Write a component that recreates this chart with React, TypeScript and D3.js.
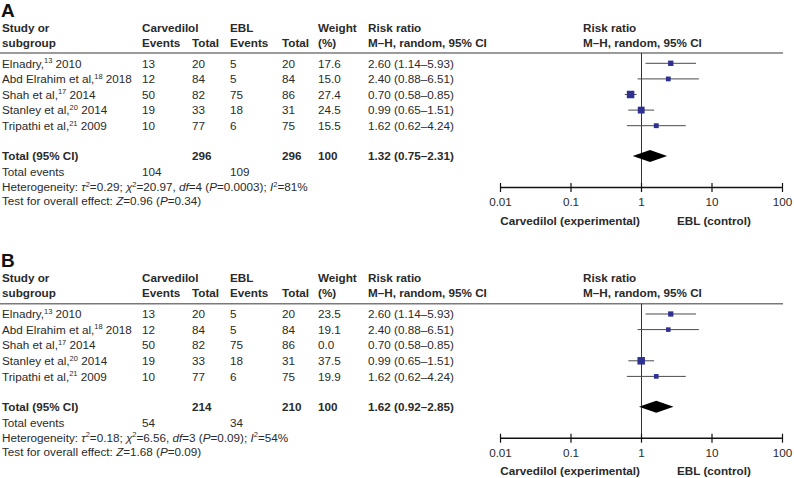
import React from "react";
import * as d3 from "d3";

const studyNames = ["Elnadry,", "Abd Elrahim et al,", "Shah et al,", "Stanley et al,", "Tripathi et al,"];
const studyRefs = ["13", "18", "17", "20", "21"];
const studyYears = ["2010", "2018", "2014", "2014", "2009"];
const carvEvents = [13, 12, 50, 19, 10];
const carvTotals = [20, 84, 82, 33, 77];
const eblEvents = [5, 5, 75, 18, 6];
const eblTotals = [20, 84, 86, 31, 75];
const riskRatio = [2.6, 2.4, 0.7, 0.99, 1.62];
const ciLow = [1.14, 0.88, 0.58, 0.65, 0.62];
const ciHigh = [5.93, 6.51, 0.85, 1.51, 4.24];
const weightsA = [17.6, 15.0, 27.4, 24.5, 15.5];
const weightsB = [23.5, 19.1, 0.0, 37.5, 19.9];
const includedA = [true, true, true, true, true];
const includedB = [true, true, false, true, true];

const totalCarvA = 296, totalEblA = 296, totalEvCarvA = 104, totalEvEblA = 109;
const pooledA = [1.32, 0.75, 2.31];
const hetA = { tau2: "0.29", chi2: "20.97", df: "4", p: "0.0003", i2: "81", z: "0.96", pz: "0.34" };
const totalCarvB = 214, totalEblB = 210, totalEvCarvB = 54, totalEvEblB = 34;
const pooledB = [1.62, 0.92, 2.85];
const hetB = { tau2: "0.18", chi2: "6.56", df: "3", p: "0.09", i2: "54", z: "1.68", pz: "0.09" };

const tickValues = [0.01, 0.1, 1, 10, 100];
const tickLabels = ["0.01", "0.1", "1", "10", "100"];

const FONT = "'Liberation Sans', Arial, Helvetica, sans-serif";
const TXT = "#2a2a2a";
const BLUE = "#2e3192";
const FS = 11.7;

const fmt1 = (v: number) => v.toFixed(1);
const fmt2 = (v: number) => v.toFixed(2);

function Panel({ label, oy, weights, included, totCarv, totEbl, evCarv, evEbl, pooled, het }: any) {
  const x = d3.scaleLog().domain([0.01, 100]).range([500.5, 782.5]);
  const rowY = (i: number) => 63.3 + i * 15.6;
  const wMax = d3.max(weights as number[]) as number;
  const side = d3.scaleLinear().domain([0, wMax]).range([1.5, 7.5]);
  const cols = { study: 2, ce: 142, ct: 192, ee: 230, et: 282, w: 318, rr: 368, plot: 583 };
  const axisY = 187.5;
  const totalY = 156;
  const diamondH = 6;
  const SUPFS = 7.5;
  return (
    <g transform={`translate(0,${oy})`} fontFamily={FONT} fill={TXT}>
      <text x={1} y={16.5} fontSize={19} fontWeight="bold" fill="#111">{label}</text>
      <g fontSize={FS} fontWeight="bold">
        <text x={cols.study} y={31.5}>Study or</text>
        <text x={cols.study} y={46.5}>subgroup</text>
        <text x={cols.ce} y={31.5}>Carvedilol</text>
        <text x={cols.ce} y={46.5}>Events</text>
        <text x={cols.ct} y={46.5}>Total</text>
        <text x={cols.ee} y={31.5}>EBL</text>
        <text x={cols.ee} y={46.5}>Events</text>
        <text x={cols.et} y={46.5}>Total</text>
        <text x={cols.w} y={31.5}>Weight</text>
        <text x={cols.w} y={46.5}>(%)</text>
        <text x={cols.rr} y={31.5}>Risk ratio</text>
        <text x={cols.rr} y={46.5}>M–H, random, 95% CI</text>
        <text x={cols.plot} y={31.5}>Risk ratio</text>
        <text x={cols.plot} y={46.5}>M–H, random, 95% CI</text>
      </g>
      <line x1={0} x2={783} y1={53} y2={53} stroke="#7a7a7a" strokeWidth={1.5} />
      <g fontSize={FS}>
        {studyNames.map((n, i) => (
          <g key={i}>
            <text x={cols.study} y={rowY(i) + 4.3}>
              {n}
              <tspan fontSize={SUPFS} dy={-4.5}>{studyRefs[i]}</tspan>
              <tspan dy={4.5}>{" " + studyYears[i]}</tspan>
            </text>
            <text x={cols.ce} y={rowY(i) + 4.3}>{carvEvents[i]}</text>
            <text x={cols.ct} y={rowY(i) + 4.3}>{carvTotals[i]}</text>
            <text x={cols.ee} y={rowY(i) + 4.3}>{eblEvents[i]}</text>
            <text x={cols.et} y={rowY(i) + 4.3}>{eblTotals[i]}</text>
            <text x={cols.w} y={rowY(i) + 4.3}>{fmt1(weights[i])}</text>
            <text x={cols.rr} y={rowY(i) + 4.3}>{`${fmt2(riskRatio[i])} (${fmt2(ciLow[i])}–${fmt2(ciHigh[i])})`}</text>
          </g>
        ))}
        <g fontWeight="bold">
          <text x={cols.study} y={totalY + 4.3}>Total (95% CI)</text>
          <text x={cols.ct} y={totalY + 4.3}>{totCarv}</text>
          <text x={cols.et} y={totalY + 4.3}>{totEbl}</text>
          <text x={cols.w} y={totalY + 4.3}>100</text>
          <text x={cols.rr} y={totalY + 4.3}>{`${fmt2(pooled[0])} (${fmt2(pooled[1])}–${fmt2(pooled[2])})`}</text>
        </g>
        <text x={cols.study} y={172 + 4.3}>Total events</text>
        <text x={cols.ce} y={172 + 4.3}>{evCarv}</text>
        <text x={cols.ee} y={172 + 4.3}>{evEbl}</text>
        <text x={cols.study} y={187 + 4.3}>
          {"Heterogeneity: "}
          <tspan fontStyle="italic">τ</tspan>
          <tspan fontSize={SUPFS} dy={-4.5}>2</tspan>
          <tspan dy={4.5}>{`=${het.tau2}; `}</tspan>
          <tspan fontStyle="italic">χ</tspan>
          <tspan fontSize={SUPFS} dy={-4.5}>2</tspan>
          <tspan dy={4.5}>{`=${het.chi2}, `}</tspan>
          <tspan fontStyle="italic">df</tspan>
          <tspan>{`=${het.df} (`}</tspan>
          <tspan fontStyle="italic">P</tspan>
          <tspan>{`=${het.p}); `}</tspan>
          <tspan fontStyle="italic">I</tspan>
          <tspan fontSize={SUPFS} dy={-4.5}>2</tspan>
          <tspan dy={4.5}>{`=${het.i2}%`}</tspan>
        </text>
        <text x={cols.study} y={201 + 4.3}>
          {"Test for overall effect: "}
          <tspan fontStyle="italic">Z</tspan>
          <tspan>{`=${het.z} (`}</tspan>
          <tspan fontStyle="italic">P</tspan>
          <tspan>{`=${het.pz})`}</tspan>
        </text>
      </g>
      <line x1={x(1)} x2={x(1)} y1={53} y2={axisY} stroke="#333" strokeWidth={1} />
      {studyNames.map((_, i) =>
        included[i] ? (
          <g key={i}>
            <line x1={x(ciLow[i])} x2={x(ciHigh[i])} y1={rowY(i)} y2={rowY(i)} stroke="#4a4a4a" strokeWidth={1} />
            <rect
              x={x(riskRatio[i]) - side(weights[i]) / 2}
              y={rowY(i) - side(weights[i]) / 2}
              width={side(weights[i])}
              height={side(weights[i])}
              fill={BLUE}
            />
          </g>
        ) : null
      )}
      <path
        d={`M${x(pooled[1])},${totalY} L${x(pooled[0])},${totalY - diamondH} L${x(pooled[2])},${totalY} L${x(pooled[0])},${totalY + diamondH} Z`}
        fill="#000"
      />
      <line x1={x(0.01)} x2={x(100)} y1={axisY} y2={axisY} stroke="#111" strokeWidth={1.4} />
      {tickValues.map((t, i) => (
        <g key={i}>
          <line x1={x(t)} x2={x(t)} y1={axisY - 4.5} y2={axisY + 4.5} stroke="#111" strokeWidth={1.2} />
          <text x={x(t)} y={206} fontSize={FS} textAnchor="middle">{tickLabels[i]}</text>
        </g>
      ))}
      <text x={640} y={224.5} fontSize={FS} fontWeight="bold" textAnchor="end">Carvedilol (experimental)</text>
      <text x={677} y={224.5} fontSize={FS} fontWeight="bold">EBL (control)</text>
    </g>
  );
}

export default function App() {
  return (
    <svg width={794} height={478} style={{ position: "absolute", left: 0, top: 0, background: "#fff" }}>
      <rect width={794} height={478} fill="#fff" />
      <Panel label="A" oy={0} weights={weightsA} included={includedA} totCarv={totalCarvA} totEbl={totalEblA}
        evCarv={totalEvCarvA} evEbl={totalEvEblA} pooled={pooledA} het={hetA} />
      <Panel label="B" oy={250.7} weights={weightsB} included={includedB} totCarv={totalCarvB} totEbl={totalEblB}
        evCarv={totalEvCarvB} evEbl={totalEvEblB} pooled={pooledB} het={hetB} />
    </svg>
  );
}
